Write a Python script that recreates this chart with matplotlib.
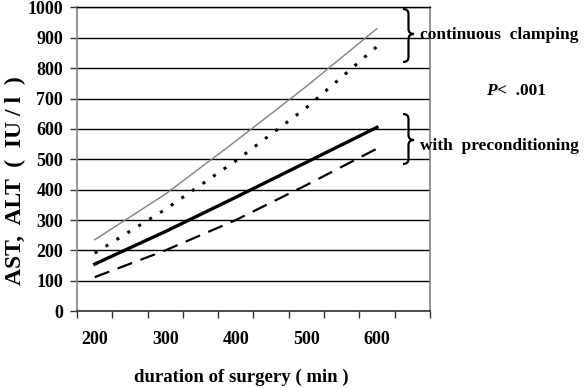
import numpy as np
import matplotlib.pyplot as plt
from matplotlib.path import Path
from matplotlib.patches import PathPatch
from matplotlib.ticker import FixedLocator, NullFormatter

plt.rcParams['font.family'] = ['Liberation Serif', 'DejaVu Serif']
plt.rcParams['font.weight'] = 'bold'

# duration of surgery (min) vs. enzyme level (IU/l)
duration = [200, 300, 400, 500, 600]
clamp_thin = [235, 385, 560, 740, 930]
clamp_dotted = [191, 335, 495, 670, 871]
precond_solid = [155, 262, 375, 490, 605]
precond_dashed = [112, 200, 300, 415, 535]

x_labels = [200, 300, 400, 500, 600]
y_ticks = list(range(0, 1001, 100))

W, H = 584, 388
fig = plt.figure(figsize=(W / 100, H / 100), dpi=100)
ax = fig.add_axes([0.132, 0.198, 0.604, 0.783])

ax.plot(duration, clamp_thin, color='#808080', lw=1.0)
ax.plot(duration, clamp_dotted, color='black', lw=2.2, linestyle=(0, (1, 3.2)))
ax.plot(duration, precond_solid, color='black', lw=2.4)
ax.plot(duration, precond_dashed, color='black', lw=1.6, linestyle=(0, (7, 4)))

ax.set_xlim(175, 675)
ax.set_ylim(0, 1000)

# labelled ticks without marks, marks sit between the categories
ax.set_xticks(x_labels)
ax.set_xticklabels([str(v) for v in x_labels], fontsize=13, fontweight='bold')
ax.xaxis.set_minor_locator(FixedLocator(np.arange(175, 676, 50)))
ax.xaxis.set_minor_formatter(NullFormatter())
ax.tick_params(axis='x', which='major', length=0, pad=14)
ax.tick_params(axis='x', which='minor', length=5, width=1, direction='out', color='#333333')

ax.set_yticks(y_ticks)
ax.set_yticklabels([str(v) for v in y_ticks], fontsize=13, fontweight='bold')
ax.tick_params(axis='y', length=5, width=1, direction='out', color='#333333', pad=5)
ax.yaxis.grid(True, color='black', lw=1.0)
ax.set_axisbelow(True)

for side in ['left', 'right']:
    ax.spines[side].set_color('#808080')
    ax.spines[side].set_linewidth(1.2)
ax.spines['top'].set_color('black')
ax.spines['top'].set_linewidth(1.0)
ax.spines['bottom'].set_color('#333333')
ax.spines['bottom'].set_linewidth(1.2)

ax.set_xlabel('duration of surgery ( min )', fontsize=13.5, fontweight='bold')
ax.xaxis.set_label_coords(0.466, -0.19)
ax.set_ylabel('AST,  ALT  (  IU / l  )', fontsize=17, fontweight='bold')
ax.yaxis.set_label_coords(-0.145, 0.43)


def brace(x0, top, mid, bot, w=11):
    # curly brace opening to the left, drawn in pixel coords (y down)
    xm = x0 + w / 2
    xt = x0 + w
    pts = [(x0, top), (xm, top), (xm, top + 5), (xm, mid - 5), (xm, mid), (xt, mid),
           (xm, mid), (xm, mid + 5), (xm, bot - 5), (xm, bot), (x0, bot)]
    codes = [Path.MOVETO, Path.CURVE3, Path.CURVE3, Path.LINETO, Path.CURVE3, Path.CURVE3,
             Path.CURVE3, Path.CURVE3, Path.LINETO, Path.CURVE3, Path.CURVE3]
    verts = [(x / W, 1 - y / H) for x, y in pts]
    fig.patches.append(PathPatch(Path(verts, codes), transform=fig.transFigure,
                                 fill=False, lw=1.6, color='black'))


brace(403, 9, 34, 62)
brace(403, 114, 140, 164)

fig.text(420 / W, 1 - 35 / H, 'continuous  clamping', fontsize=12.5, fontweight='bold', va='center')
fig.text(420 / W, 1 - 146 / H, 'with  preconditioning', fontsize=12.5, fontweight='bold', va='center')
fig.text(486 / W, 1 - 91 / H, 'P', fontsize=12.5, fontweight='bold', style='italic', va='center')
fig.text(497 / W, 1 - 91 / H, '<  .001', fontsize=12.5, fontweight='bold', va='center')

fig.savefig('out.png', dpi=100)
